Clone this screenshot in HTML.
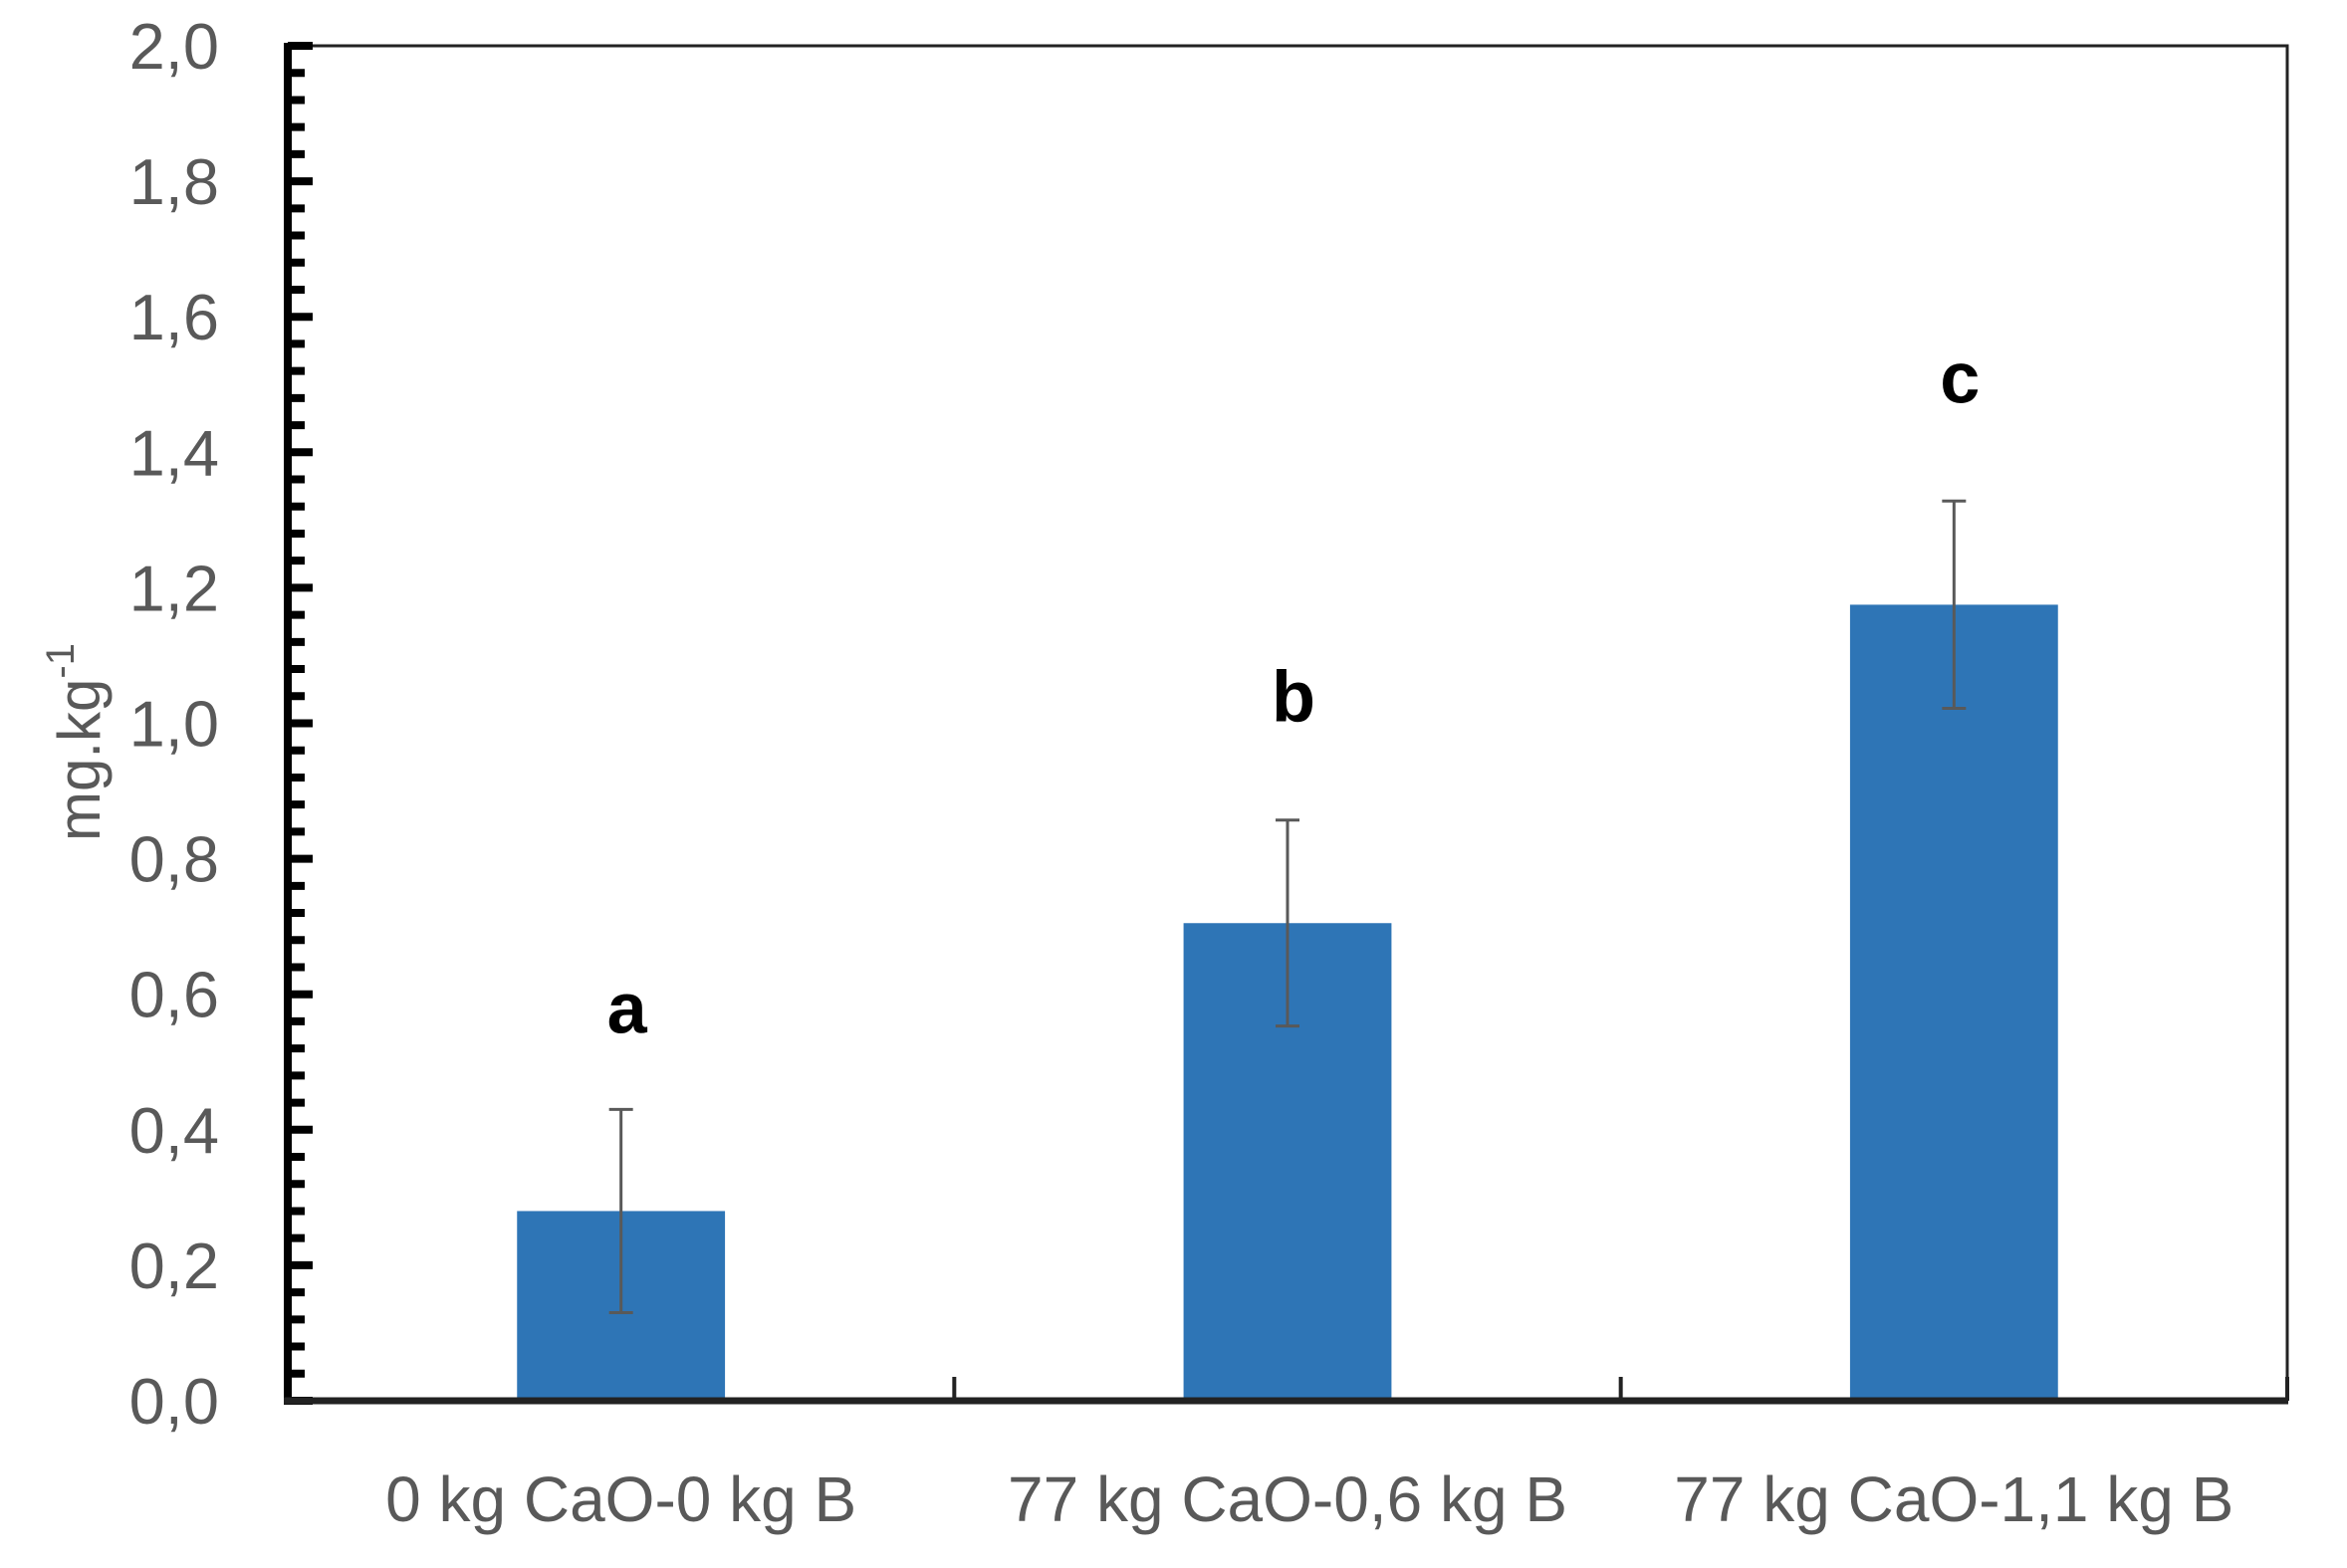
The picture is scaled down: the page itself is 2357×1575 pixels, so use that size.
<!DOCTYPE html>
<html><head><meta charset="utf-8"><style>
html,body{margin:0;padding:0;background:#fff;}
svg{display:block;}
</style></head><body>
<svg id="chart" width="2357" height="1575" xmlns="http://www.w3.org/2000/svg" font-family="'Liberation Sans', sans-serif">
</svg>
<script>
const categories = ["0 kg CaO-0 kg B", "77 kg CaO-0,6 kg B", "77 kg CaO-1,1 kg B"];
const values = [0.28, 0.705, 1.175];
const errors = [0.15, 0.152, 0.153];
const letters = ["a", "b", "c"];
const letterValues = [0.58, 1.04, 1.51];
const yTicks = ["0,0","0,2","0,4","0,6","0,8","1,0","1,2","1,4","1,6","1,8","2,0"];
const yTickValues = [0,0.2,0.4,0.6,0.8,1.0,1.2,1.4,1.6,1.8,2.0];

const svg = document.getElementById('chart');
const NS = 'http://www.w3.org/2000/svg';
const L = 289, R = 2297, T = 46, B = 1407, YMAX = 2.0;
const y = v => B - (v / YMAX) * (B - T);
const catW = (R - L) / categories.length;
const x = i => L + catW * (i + 0.5);
const barW = catW * 0.312;

function mk(tag, attrs, parent) {
  const e = document.createElementNS(NS, tag);
  for (const k in attrs) e.setAttribute(k, attrs[k]);
  (parent || svg).appendChild(e);
  return e;
}

const frame = mk('path', {d:`M${L} ${T} H${R} V${B}`, fill:'none', stroke:'#222', 'stroke-width':3});



values.forEach((v, i) => {
  const r = mk('rect', {x: x(i) - barW/2, y: y(v), width: barW, height: B - y(v), fill:'#2E75B6'});
  
  
});

values.forEach((v, i) => {
  const g = mk('g', {stroke:'#595959', 'stroke-width':3});
  
  
  const hi = y(v + errors[i]), lo = y(v - errors[i]), cx = x(i);
  mk('line', {x1:cx, x2:cx, y1:hi, y2:lo}, g);
  mk('line', {x1:cx-12, x2:cx+12, y1:hi, y2:hi}, g);
  mk('line', {x1:cx-12, x2:cx+12, y1:lo, y2:lo}, g);
});

letters.forEach((s, i) => {
  const t = mk('text', {x: x(i) + 6, y: y(letterValues[i]) + 25, 'text-anchor':'middle', 'font-size':72, 'font-weight':'bold', fill:'#000'});
  t.textContent = s;
  
  
});

const ya = mk('line', {x1:L, x2:L, y1:T-3, y2:B+4, stroke:'#000', 'stroke-width':8});



for (let k = 0; k <= 50; k++) {
  const v = k * 0.04;
  const major = k % 5 === 0;
  const tk = mk('line', {x1:L, x2:L + (major ? 25 : 17), y1:y(v), y2:y(v), stroke:'#000', 'stroke-width':8});
  
  
}

yTicks.forEach((s, i) => {
  const t = mk('text', {x:220, y: y(yTickValues[i]) + 23, 'text-anchor':'end', 'font-size':65, fill:'#595959'});
  t.textContent = s;
  
  
});

const xa = mk('line', {x1:L-4, x2:R+1, y1:B, y2:B, stroke:'#222', 'stroke-width':7});



for (let i = 1; i <= categories.length; i++) {
  const cx = L + catW * i;
  const tk = mk('line', {x1:cx, x2:cx, y1:B-24, y2:B, stroke:'#222', 'stroke-width':4});
  
  
}

categories.forEach((s, i) => {
  const t = mk('text', {x: x(i), y: 1528, 'text-anchor':'middle', 'font-size':64, fill:'#595959'});
  t.textContent = s;
  
  
});

const yt = mk('text', {x:0, y:0, transform:'translate(100,845) rotate(-90)', 'font-size':60, fill:'#595959'});


yt.textContent = 'mg.kg';
const sup = mk('tspan', {dy:-26, 'font-size':40}, yt);
sup.textContent = '-1';
</script>
</body></html>
